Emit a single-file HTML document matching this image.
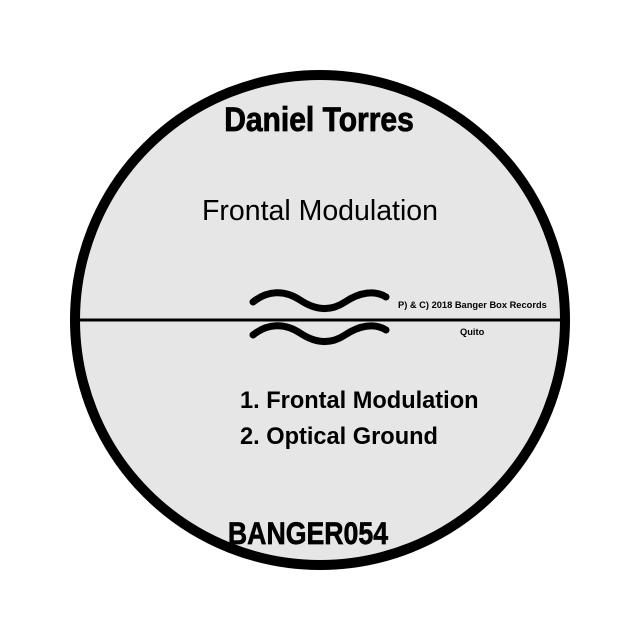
<!DOCTYPE html>
<html><head><style>
body{margin:0;background:#fff;width:640px;height:640px;overflow:hidden}
svg{display:block}
</style></head><body>
<svg width="640" height="640" viewBox="0 0 640 640" xmlns="http://www.w3.org/2000/svg">
<circle cx="320" cy="320" r="245" fill="#e6e6e6" stroke="#000" stroke-width="10"/>
<line x1="78" y1="320" x2="562" y2="320" stroke="#000" stroke-width="3"/>
<path d="M253,302 C268,290 285,290 300,300 C315,310 330,312 345,302 C360,292 375,290 386,297" fill="none" stroke="#000" stroke-width="7" stroke-linecap="round"/>
<path d="M253,335 C268,323 285,323 300,333 C315,343 330,345 345,335 C360,325 375,323 386,330" fill="none" stroke="#000" stroke-width="7" stroke-linecap="round"/>
<g transform="translate(319 131) scale(0.91 1.05)"><text x="0" y="0" text-anchor="middle" font-family="Liberation Sans, sans-serif" font-weight="bold" font-size="33" fill="#000" stroke="#000" stroke-width="0.8">Daniel Torres</text></g>
<text x="320" y="220" text-anchor="middle" font-family="Liberation Sans, sans-serif" font-size="28.5" fill="#000">Frontal Modulation</text>
<text x="398" y="308" font-family="Liberation Sans, sans-serif" font-weight="bold" font-size="9.3" fill="#000">P) &amp; C) 2018 Banger Box Records</text>
<text x="460" y="335" font-family="Liberation Sans, sans-serif" font-weight="bold" font-size="9.3" fill="#000">Quito</text>
<text x="240" y="408" font-family="Liberation Sans, sans-serif" font-weight="bold" font-size="23.6" fill="#000">1. Frontal Modulation</text>
<text x="240" y="444" font-family="Liberation Sans, sans-serif" font-weight="bold" font-size="23.6" fill="#000">2. Optical Ground</text>
<g transform="translate(308 544) scale(0.89 1.05)"><text x="0" y="0" text-anchor="middle" font-family="Liberation Sans, sans-serif" font-weight="bold" font-size="30" fill="#000" stroke="#000" stroke-width="0.6">BANGER054</text></g>
</svg>
</body></html>
